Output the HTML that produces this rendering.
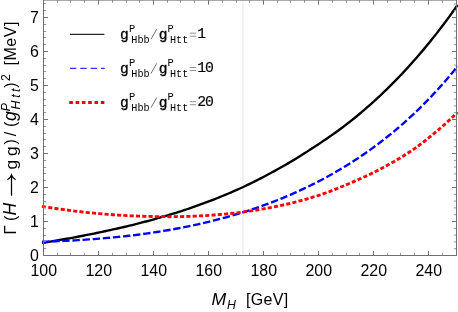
<!DOCTYPE html>
<html><head><meta charset="utf-8"><title>plot</title>
<style>
html,body{margin:0;padding:0;background:#fff;}
body{width:458px;height:312px;overflow:hidden;}
svg{display:block;will-change:transform;}
text{font-family:"Liberation Sans",sans-serif;fill:#000;}
.m{font-family:"Liberation Mono",monospace;}
.i{font-style:italic;}
</style></head><body>
<svg width="458" height="312" viewBox="0 0 458 312">
<rect width="458" height="312" fill="#fff"/>
<line x1="243.0" x2="243.0" y1="0.1" y2="255.5" stroke="#e5e5e5" stroke-width="1"/>
<g fill="none" stroke-width="2.35" stroke-linejoin="round">
<path d="M42.00,242.95 L44.73,242.51 L47.47,242.07 L50.20,241.62 L52.93,241.16 L55.67,240.70 L58.40,240.23 L61.13,239.75 L63.87,239.27 L66.60,238.78 L69.34,238.29 L72.07,237.80 L74.80,237.29 L77.54,236.78 L80.27,236.27 L83.01,235.74 L85.74,235.20 L88.47,234.66 L91.21,234.11 L93.94,233.55 L96.68,232.98 L99.41,232.41 L102.14,231.83 L104.88,231.25 L107.61,230.66 L110.34,230.07 L113.08,229.47 L115.81,228.87 L118.55,228.25 L121.28,227.63 L124.01,226.99 L126.75,226.34 L129.48,225.68 L132.22,225.02 L134.95,224.34 L137.68,223.64 L140.42,222.94 L143.15,222.23 L145.89,221.50 L148.62,220.77 L151.35,220.02 L154.09,219.26 L156.82,218.49 L159.56,217.71 L162.29,216.92 L165.02,216.11 L167.76,215.30 L170.49,214.47 L173.22,213.64 L175.96,212.78 L178.69,211.92 L181.43,211.04 L184.16,210.15 L186.89,209.24 L189.63,208.31 L192.36,207.37 L195.10,206.42 L197.83,205.44 L200.56,204.46 L203.30,203.45 L206.03,202.44 L208.77,201.41 L211.50,200.36 L214.23,199.29 L216.97,198.22 L219.70,197.12 L222.43,196.01 L225.17,194.88 L227.90,193.74 L230.64,192.58 L233.37,191.40 L236.10,190.20 L238.84,188.98 L241.57,187.74 L244.31,186.47 L247.04,185.18 L249.77,183.86 L252.51,182.52 L255.24,181.16 L257.98,179.78 L260.71,178.38 L263.44,176.96 L266.18,175.52 L268.91,174.06 L271.64,172.59 L274.38,171.10 L277.11,169.59 L279.85,168.07 L282.58,166.52 L285.31,164.95 L288.05,163.36 L290.78,161.75 L293.52,160.12 L296.25,158.46 L298.98,156.78 L301.72,155.08 L304.45,153.36 L307.19,151.62 L309.92,149.85 L312.65,148.07 L315.39,146.28 L318.12,144.47 L320.86,142.64 L323.59,140.80 L326.32,138.93 L329.06,137.04 L331.79,135.13 L334.52,133.19 L337.26,131.22 L339.99,129.23 L342.73,127.20 L345.46,125.13 L348.19,123.04 L350.93,120.90 L353.66,118.72 L356.40,116.50 L359.13,114.24 L361.86,111.94 L364.60,109.60 L367.33,107.22 L370.07,104.81 L372.80,102.36 L375.53,99.87 L378.27,97.35 L381.00,94.79 L383.73,92.18 L386.47,89.54 L389.20,86.86 L391.94,84.14 L394.67,81.38 L397.40,78.57 L400.14,75.73 L402.87,72.84 L405.61,69.90 L408.34,66.93 L411.07,63.91 L413.81,60.84 L416.54,57.73 L419.28,54.57 L422.01,51.37 L424.74,48.12 L427.48,44.83 L430.21,41.48 L432.94,38.09 L435.68,34.64 L438.41,31.14 L441.15,27.59 L443.88,23.98 L446.61,20.31 L449.35,16.58 L452.08,12.79 L454.82,8.94 L457.55,5.03" stroke="#000"/>
<path d="M42.00,241.74 L44.73,241.67 L47.47,241.58 L50.20,241.49 L52.93,241.38 L55.67,241.28 L58.40,241.16 L61.13,241.04 L63.87,240.91 L66.60,240.77 L69.34,240.63 L72.07,240.48 L74.80,240.32 L77.54,240.16 L80.27,239.99 L83.01,239.81 L85.74,239.63 L88.47,239.44 L91.21,239.25 L93.94,239.05 L96.68,238.84 L99.41,238.63 L102.14,238.41 L104.88,238.18 L107.61,237.94 L110.34,237.70 L113.08,237.44 L115.81,237.18 L118.55,236.90 L121.28,236.62 L124.01,236.32 L126.75,236.02 L129.48,235.71 L132.22,235.38 L134.95,235.05 L137.68,234.71 L140.42,234.35 L143.15,233.99 L145.89,233.62 L148.62,233.23 L151.35,232.84 L154.09,232.43 L156.82,232.01 L159.56,231.58 L162.29,231.14 L165.02,230.69 L167.76,230.23 L170.49,229.75 L173.22,229.26 L175.96,228.76 L178.69,228.25 L181.43,227.73 L184.16,227.19 L186.89,226.64 L189.63,226.08 L192.36,225.51 L195.10,224.92 L197.83,224.32 L200.56,223.70 L203.30,223.07 L206.03,222.43 L208.77,221.78 L211.50,221.11 L214.23,220.42 L216.97,219.72 L219.70,219.01 L222.43,218.28 L225.17,217.54 L227.90,216.78 L230.64,216.00 L233.37,215.21 L236.10,214.40 L238.84,213.58 L241.57,212.74 L244.31,211.89 L247.04,211.01 L249.77,210.13 L252.51,209.22 L255.24,208.29 L257.98,207.35 L260.71,206.39 L263.44,205.42 L266.18,204.42 L268.91,203.40 L271.64,202.37 L274.38,201.32 L277.11,200.24 L279.85,199.15 L282.58,198.04 L285.31,196.91 L288.05,195.75 L290.78,194.58 L293.52,193.38 L296.25,192.17 L298.98,190.93 L301.72,189.66 L304.45,188.38 L307.19,187.07 L309.92,185.75 L312.65,184.39 L315.39,183.01 L318.12,181.61 L320.86,180.19 L323.59,178.74 L326.32,177.26 L329.06,175.76 L331.79,174.23 L334.52,172.68 L337.26,171.09 L339.99,169.49 L342.73,167.85 L345.46,166.18 L348.19,164.49 L350.93,162.77 L353.66,161.01 L356.40,159.23 L359.13,157.42 L361.86,155.57 L364.60,153.70 L367.33,151.79 L370.07,149.85 L372.80,147.87 L375.53,145.86 L378.27,143.82 L381.00,141.74 L383.73,139.63 L386.47,137.48 L389.20,135.29 L391.94,133.07 L394.67,130.80 L397.40,128.50 L400.14,126.16 L402.87,123.78 L405.61,121.35 L408.34,118.89 L411.07,116.38 L413.81,113.82 L416.54,111.23 L419.28,108.59 L422.01,105.90 L424.74,103.16 L427.48,100.38 L430.21,97.55 L432.94,94.66 L435.68,91.73 L438.41,88.74 L441.15,85.70 L443.88,82.61 L446.61,79.46 L449.35,76.26 L452.08,72.99 L454.82,69.67 L457.55,66.29" stroke="#0000ff" stroke-width="2.35" stroke-dasharray="7.4 2.75"/>
<path d="M42.00,206.43 L44.73,206.85 L47.47,207.26 L50.20,207.67 L52.93,208.08 L55.67,208.47 L58.40,208.87 L61.13,209.25 L63.87,209.63 L66.60,209.99 L69.34,210.35 L72.07,210.71 L74.80,211.05 L77.54,211.38 L80.27,211.70 L83.01,212.01 L85.74,212.32 L88.47,212.61 L91.21,212.88 L93.94,213.15 L96.68,213.40 L99.41,213.64 L102.14,213.87 L104.88,214.09 L107.61,214.31 L110.34,214.51 L113.08,214.71 L115.81,214.90 L118.55,215.08 L121.28,215.25 L124.01,215.41 L126.75,215.57 L129.48,215.71 L132.22,215.84 L134.95,215.97 L137.68,216.09 L140.42,216.19 L143.15,216.29 L145.89,216.38 L148.62,216.45 L151.35,216.52 L154.09,216.58 L156.82,216.62 L159.56,216.66 L162.29,216.69 L165.02,216.70 L167.76,216.70 L170.49,216.70 L173.22,216.68 L175.96,216.65 L178.69,216.61 L181.43,216.56 L184.16,216.49 L186.89,216.42 L189.63,216.33 L192.36,216.23 L195.10,216.12 L197.83,216.00 L200.56,215.86 L203.30,215.71 L206.03,215.55 L208.77,215.38 L211.50,215.19 L214.23,214.99 L216.97,214.77 L219.70,214.54 L222.43,214.30 L225.17,214.05 L227.90,213.78 L230.64,213.49 L233.37,213.19 L236.10,212.88 L238.84,212.55 L241.57,212.21 L244.31,211.85 L247.04,211.47 L249.77,211.08 L252.51,210.67 L255.24,210.25 L257.98,209.81 L260.71,209.36 L263.44,208.89 L266.18,208.40 L268.91,207.89 L271.64,207.37 L274.38,206.82 L277.11,206.26 L279.85,205.69 L282.58,205.09 L285.31,204.47 L288.05,203.84 L290.78,203.19 L293.52,202.51 L296.25,201.82 L298.98,201.11 L301.72,200.37 L304.45,199.62 L307.19,198.85 L309.92,198.05 L312.65,197.23 L315.39,196.39 L318.12,195.53 L320.86,194.63 L323.59,193.70 L326.32,192.73 L329.06,191.72 L331.79,190.68 L334.52,189.62 L337.26,188.53 L339.99,187.41 L342.73,186.28 L345.46,185.13 L348.19,183.97 L350.93,182.80 L353.66,181.62 L356.40,180.43 L359.13,179.22 L361.86,178.00 L364.60,176.76 L367.33,175.49 L370.07,174.20 L372.80,172.87 L375.53,171.52 L378.27,170.13 L381.00,168.70 L383.73,167.26 L386.47,165.78 L389.20,164.28 L391.94,162.75 L394.67,161.18 L397.40,159.58 L400.14,157.94 L402.87,156.26 L405.61,154.53 L408.34,152.76 L411.07,150.94 L413.81,149.06 L416.54,147.13 L419.28,145.14 L422.01,143.09 L424.74,141.00 L427.48,138.87 L430.21,136.69 L432.94,134.46 L435.68,132.19 L438.41,129.87 L441.15,127.50 L443.88,125.07 L446.61,122.60 L449.35,120.08 L452.08,117.50 L454.82,114.87 L457.55,112.18" stroke="#ff0000" stroke-width="2.85" stroke-dasharray="4.1 2.2"/>
</g>
<path d="M57.50,255.50 v-2.70 M57.50,0.10 v2.70 M70.50,255.50 v-2.70 M70.50,0.10 v2.70 M84.50,255.50 v-2.70 M84.50,0.10 v2.70 M112.50,255.50 v-2.70 M112.50,0.10 v2.70 M126.50,255.50 v-2.70 M126.50,0.10 v2.70 M139.50,255.50 v-2.70 M139.50,0.10 v2.70 M167.50,255.50 v-2.70 M167.50,0.10 v2.70 M180.50,255.50 v-2.70 M180.50,0.10 v2.70 M194.50,255.50 v-2.70 M194.50,0.10 v2.70 M222.50,255.50 v-2.70 M222.50,0.10 v2.70 M236.50,255.50 v-2.70 M236.50,0.10 v2.70 M249.50,255.50 v-2.70 M249.50,0.10 v2.70 M277.50,255.50 v-2.70 M277.50,0.10 v2.70 M290.50,255.50 v-2.70 M290.50,0.10 v2.70 M304.50,255.50 v-2.70 M304.50,0.10 v2.70 M332.50,255.50 v-2.70 M332.50,0.10 v2.70 M346.50,255.50 v-2.70 M346.50,0.10 v2.70 M359.50,255.50 v-2.70 M359.50,0.10 v2.70 M387.50,255.50 v-2.70 M387.50,0.10 v2.70 M400.50,255.50 v-2.70 M400.50,0.10 v2.70 M414.50,255.50 v-2.70 M414.50,0.10 v2.70 M442.50,255.50 v-2.70 M442.50,0.10 v2.70 M456.50,255.50 v-2.70 M456.50,0.10 v2.70 M43.50,248.50 h2.70 M456.50,248.70 h-2.70 M43.50,241.50 h2.70 M456.50,241.90 h-2.70 M43.50,235.50 h2.70 M456.50,235.10 h-2.70 M43.50,228.50 h2.70 M456.50,228.30 h-2.70 M43.50,214.50 h2.70 M456.50,214.70 h-2.70 M43.50,207.50 h2.70 M456.50,207.90 h-2.70 M43.50,201.50 h2.70 M456.50,201.10 h-2.70 M43.50,194.50 h2.70 M456.50,194.30 h-2.70 M43.50,180.50 h2.70 M456.50,180.70 h-2.70 M43.50,173.50 h2.70 M456.50,173.90 h-2.70 M43.50,167.50 h2.70 M456.50,167.10 h-2.70 M43.50,160.50 h2.70 M456.50,160.30 h-2.70 M43.50,146.50 h2.70 M456.50,146.70 h-2.70 M43.50,139.50 h2.70 M456.50,139.90 h-2.70 M43.50,133.50 h2.70 M456.50,133.10 h-2.70 M43.50,126.50 h2.70 M456.50,126.30 h-2.70 M43.50,112.50 h2.70 M456.50,112.70 h-2.70 M43.50,105.50 h2.70 M456.50,105.90 h-2.70 M43.50,99.50 h2.70 M456.50,99.10 h-2.70 M43.50,92.50 h2.70 M456.50,92.30 h-2.70 M43.50,78.50 h2.70 M456.50,78.70 h-2.70 M43.50,71.50 h2.70 M456.50,71.90 h-2.70 M43.50,65.50 h2.70 M456.50,65.10 h-2.70 M43.50,58.50 h2.70 M456.50,58.30 h-2.70 M43.50,44.50 h2.70 M456.50,44.70 h-2.70 M43.50,37.50 h2.70 M456.50,37.90 h-2.70 M43.50,31.50 h2.70 M456.50,31.10 h-2.70 M43.50,24.50 h2.70 M456.50,24.30 h-2.70 M43.50,10.50 h2.70 M456.50,10.70 h-2.70 M43.50,3.50 h2.70 M456.50,3.90 h-2.70" stroke="#8c8c8c" stroke-width="0.9" fill="none"/>
<path d="M43.50,255.50 v-4.50 M43.50,0.10 v4.50 M98.50,255.50 v-4.50 M98.50,0.10 v4.50 M153.50,255.50 v-4.50 M153.50,0.10 v4.50 M208.50,255.50 v-4.50 M208.50,0.10 v4.50 M263.50,255.50 v-4.50 M263.50,0.10 v4.50 M318.50,255.50 v-4.50 M318.50,0.10 v4.50 M373.50,255.50 v-4.50 M373.50,0.10 v4.50 M428.50,255.50 v-4.50 M428.50,0.10 v4.50 M43.50,255.50 h4.50 M456.50,255.50 h-4.50 M43.50,221.50 h4.50 M456.50,221.50 h-4.50 M43.50,187.50 h4.50 M456.50,187.50 h-4.50 M43.50,153.50 h4.50 M456.50,153.50 h-4.50 M43.50,119.50 h4.50 M456.50,119.50 h-4.50 M43.50,85.50 h4.50 M456.50,85.50 h-4.50 M43.50,51.50 h4.50 M456.50,51.50 h-4.50 M43.50,17.50 h4.50 M456.50,17.50 h-4.50" stroke="#707070" stroke-width="1" fill="none"/>
<rect x="43.5" y="0.1" width="413.0" height="255.4" fill="none" stroke="#707070" stroke-width="1"/>
<g font-size="16.8"><text transform="translate(43.70,275.6) scale(0.950,1)" text-anchor="middle">100</text><text transform="translate(98.70,275.6) scale(0.950,1)" text-anchor="middle">120</text><text transform="translate(153.70,275.6) scale(0.950,1)" text-anchor="middle">140</text><text transform="translate(208.70,275.6) scale(0.950,1)" text-anchor="middle">160</text><text transform="translate(263.70,275.6) scale(0.950,1)" text-anchor="middle">180</text><text transform="translate(318.70,275.6) scale(0.950,1)" text-anchor="middle">200</text><text transform="translate(373.70,275.6) scale(0.950,1)" text-anchor="middle">220</text><text transform="translate(428.70,275.6) scale(0.950,1)" text-anchor="middle">240</text><text transform="translate(38.9,261.10) scale(0.950,1)" text-anchor="end">0</text><text transform="translate(38.9,227.10) scale(0.950,1)" text-anchor="end">1</text><text transform="translate(38.9,193.10) scale(0.950,1)" text-anchor="end">2</text><text transform="translate(38.9,159.10) scale(0.950,1)" text-anchor="end">3</text><text transform="translate(38.9,125.10) scale(0.950,1)" text-anchor="end">4</text><text transform="translate(38.9,91.10) scale(0.950,1)" text-anchor="end">5</text><text transform="translate(38.9,57.10) scale(0.950,1)" text-anchor="end">6</text><text transform="translate(38.9,23.10) scale(0.950,1)" text-anchor="end">7</text></g>
<!-- x label -->
<g font-size="16">
<text transform="translate(211.5,304.9) scale(1.07,1)" class="i" font-size="16.5">M</text>
<text x="226.9" y="308.7" class="i" font-size="12.3">H</text>
<text x="246" y="304.9" letter-spacing="0.3">[GeV]</text>
</g>
<!-- y label -->
<g transform="translate(15.4,232.9) rotate(-90)" font-size="16">
<text x="-1.8" y="0.5" font-size="17.4">Γ</text>
<text x="12" y="1">(</text>
<text x="17.3" y="1.0" class="i" font-size="17.6">H</text>
<path d="M37.2,-3.9 H57.3" stroke="#000" stroke-width="1.25" fill="none"/>
<path d="M53.2,-8.0 Q54.6,-5 57.9,-3.9 Q54.6,-2.8 53.2,0.2" stroke="#000" stroke-width="1.2" fill="none"/>
<text x="63.5" y="1.1" font-size="17.4">g</text>
<text x="76.9" y="1.1" font-size="17.4">g</text>
<text x="88.5" y="1">)</text>
<text x="96.7" y="1">/</text>
<text x="105.9" y="1">(</text>
<text x="111.9" y="0.3" class="i" font-size="17.6">g</text>
<text x="121.7" y="-5.6" class="i" font-size="12.3">P</text>
<text x="123.3" y="4.9" class="i" font-size="12.3">H</text>
<text x="135.2" y="4.9" class="i" font-size="12.3">t</text>
<text x="140.9" y="4.9" class="i" font-size="12.3">t</text>
<text x="145.1" y="1">)</text>
<text x="152" y="-5.9" font-size="12.3">2</text>
<text x="167.3" y="1" letter-spacing="0.55">[MeV]</text>
</g>
<!-- legend -->
<line x1="70" x2="104.4" y1="34.4" y2="34.4" stroke="#2a2a2a" stroke-width="1.15"/>
<line x1="70" x2="104.7" y1="68.4" y2="68.4" stroke="#3030ff" stroke-width="1.1" stroke-dasharray="6.3 4"/>
<line x1="69.3" x2="104.8" y1="102.5" y2="102.5" stroke="#f00000" stroke-width="3.1" stroke-dasharray="3.6 2.7"/>
<text class="m" font-size="14.6" stroke="#000" stroke-width="0.3" x="120.0" y="38.5">g</text><text class="m" font-size="10.4" x="128.9" y="31.7">P</text><text class="m" font-size="11.6" x="131.3" y="42.5" textLength="18.3" lengthAdjust="spacingAndGlyphs">Hbb</text><path d="M151,39.2 L156.7,29.1" stroke="#6a6a6a" stroke-width="0.95" fill="none"/><text class="m" font-size="14.6" stroke="#000" stroke-width="0.3" x="158.7" y="38.5">g</text><text class="m" font-size="10.4" x="167.6" y="31.7">P</text><text class="m" font-size="11.6" x="170.0" y="42.5" textLength="18.3" lengthAdjust="spacingAndGlyphs">Htt</text><path d="M189.9,33.2 h6.2 M189.9,36.2 h6.2" stroke="#808080" stroke-width="0.85" fill="none"/><text class="m" font-size="14.8" stroke="#000" stroke-width="0.15" x="197.2" y="37.8" textLength="8.4" lengthAdjust="spacing">1</text><text class="m" font-size="14.6" stroke="#000" stroke-width="0.3" x="120.0" y="72.8">g</text><text class="m" font-size="10.4" x="128.9" y="66.0">P</text><text class="m" font-size="11.6" x="131.3" y="76.8" textLength="18.3" lengthAdjust="spacingAndGlyphs">Hbb</text><path d="M151,73.5 L156.7,63.4" stroke="#6a6a6a" stroke-width="0.95" fill="none"/><text class="m" font-size="14.6" stroke="#000" stroke-width="0.3" x="158.7" y="72.8">g</text><text class="m" font-size="10.4" x="167.6" y="66.0">P</text><text class="m" font-size="11.6" x="170.0" y="76.8" textLength="18.3" lengthAdjust="spacingAndGlyphs">Htt</text><path d="M189.9,67.5 h6.2 M189.9,70.5 h6.2" stroke="#808080" stroke-width="0.85" fill="none"/><text class="m" font-size="14.8" stroke="#000" stroke-width="0.15" x="197.2" y="72.1" textLength="16.8" lengthAdjust="spacing">10</text><text class="m" font-size="14.6" stroke="#000" stroke-width="0.3" x="120.0" y="107.0">g</text><text class="m" font-size="10.4" x="128.9" y="100.2">P</text><text class="m" font-size="11.6" x="131.3" y="111.0" textLength="18.3" lengthAdjust="spacingAndGlyphs">Hbb</text><path d="M151,107.7 L156.7,97.6" stroke="#6a6a6a" stroke-width="0.95" fill="none"/><text class="m" font-size="14.6" stroke="#000" stroke-width="0.3" x="158.7" y="107.0">g</text><text class="m" font-size="10.4" x="167.6" y="100.2">P</text><text class="m" font-size="11.6" x="170.0" y="111.0" textLength="18.3" lengthAdjust="spacingAndGlyphs">Htt</text><path d="M189.9,101.7 h6.2 M189.9,104.7 h6.2" stroke="#808080" stroke-width="0.85" fill="none"/><text class="m" font-size="14.8" stroke="#000" stroke-width="0.15" x="197.2" y="106.3" textLength="16.8" lengthAdjust="spacing">20</text>
</svg>
</body></html>
